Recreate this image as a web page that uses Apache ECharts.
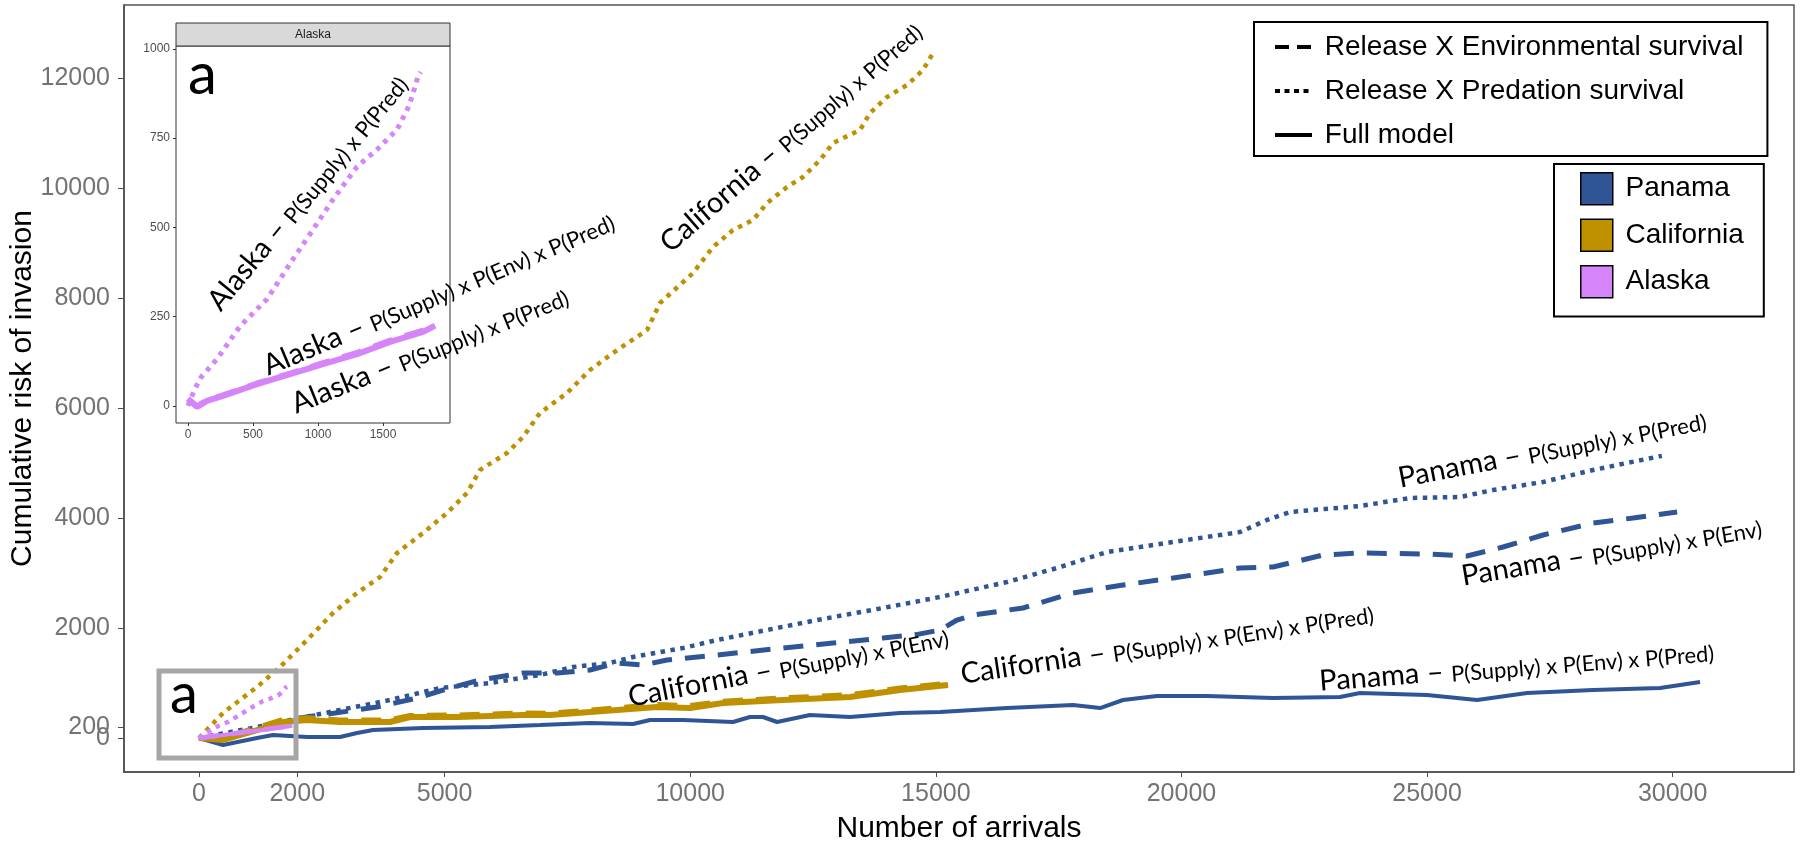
<!DOCTYPE html>
<html lang="en">
<head>
<meta charset="UTF-8">
<title>Cumulative risk of invasion</title>
<style>html,body{margin:0;padding:0;background:#fff}</style>
</head>
<body>
<div id="chart" style="width: 1800px;height: 847px"></div>
<script src="https://cdn.jsdelivr.net/npm/echarts@6.0.0/dist/echarts.min.js"></script>
<script>
// [arrivals, cumulative risk]
const panamaFull = [[0,0],[489,-127],[1181,0],[1507,55],[2199,18],[2870,18],[3217,91],[3542,145],[4560,182],[5924,200],[6942,236],[7960,273],[8835,255],[9182,327],[9853,327],[10871,291],[11217,382],[11482,382],[11767,291],[12439,418],[13253,382],[14271,455],[15086,473],[16450,545],[17793,600],[18343,545],[18811,691],[19503,764],[20521,764],[21865,727],[23228,745],[23635,818],[25000,782],[26018,691],[27036,818],[28380,873],[29743,909],[30558,1018]];
const panamaEnv = [[0,0],[835,55],[1181,145],[2056,364],[3624,564],[4438,727],[5110,909],[5721,1055],[6596,1182],[7288,1182],[7960,1236],[8510,1364],[9039,1327],[9527,1418],[10546,1509],[11889,1636],[12907,1727],[13925,1818],[14600,1880],[15086,1964],[15431,2145],[15757,2236],[16775,2364],[17793,2636],[18811,2782],[19829,2909],[21193,3091],[21865,3109],[22210,3182],[22882,3327],[23635,3364],[25000,3345],[25814,3309],[26547,3473],[27362,3691],[28380,3909],[29194,4000],[30090,4109]];
const panamaPred = [[0,0],[1181,200],[2056,364],[2870,509],[3888,691],[4906,909],[5924,1000],[6942,1145],[7614,1291],[8367,1364],[8835,1473],[9853,1636],[10546,1782],[11564,1964],[12582,2145],[13925,2364],[15086,2564],[16450,2836],[17467,3091],[18485,3382],[19829,3564],[21193,3745],[21743,3964],[22210,4109],[23635,4218],[24654,4364],[25672,4382],[26344,4509],[27362,4655],[28380,4873],[29072,5000],[29780,5130]];
const californiaFull = [[0,0],[489,-36],[1181,145],[1710,291],[2199,327],[2870,291],[3888,291],[4296,382],[5252,382],[6596,418],[7146,418],[7960,473],[8510,509],[9324,564],[9996,545],[10668,636],[11889,691],[13253,745],[14271,873],[15248,964]];
const californiaEnv = [[0,0],[489,0],[1181,180],[1710,330],[2199,360],[2870,320],[3888,320],[4296,400],[5252,410],[6596,445],[7146,440],[7960,500],[8510,540],[9324,600],[9996,580],[10668,660],[11889,720],[13253,780],[14271,900],[15248,990]];
const californiaPred = [[0,0],[489,455],[1181,927],[1649,1291],[2199,1782],[2728,2273],[3217,2636],[3685,2927],[4031,3364],[4560,3727],[5049,4091],[5456,4455],[5721,4873],[6270,5182],[6596,5473],[6942,5909],[7492,6273],[7960,6691],[8428,7000],[9121,7418],[9385,7909],[10057,8455],[10464,8927],[10871,9236],[11279,9418],[11564,9727],[11971,10018],[12296,10200],[12643,10509],[12907,10818],[13457,11055],[13660,11364],[14007,11655],[14414,11873],[14739,12145],[14943,12455]];
const alaskaFull = [[0,20],[70,-3],[146,14],[269,28],[531,61],[785,89],[1038,117],[1300,145],[1554,179],[1808,207],[1900,225]];
const alaskaEnv = [[0,20],[70,0],[146,17],[269,31],[531,64],[785,92],[1038,121],[1300,150],[1554,184],[1808,212],[1900,228]];
const alaskaPred = [[0,0],[50,45],[100,80],[223,131],[400,223],[608,299],[808,411],[962,494],[1115,578],[1300,670],[1454,718],[1608,774],[1700,840],[1769,922],[1790,935]];

const mainXTicks = [0, 2000, 5000, 10000, 15000, 20000, 25000, 30000];
const mainYTicks = [0, 2000, 4000, 6000, 8000, 10000, 12000];
const strayYTicks = [200];   // the odd extra tick left over in the figure
const insetXTicks = [0, 500, 1000, 1500];
const insetYTicks = [0, 250, 500, 750, 1000];

const modelNames = ['Release X Environmental survival', 'Release X Predation survival', 'Full model'];
const regionNames = ['Panama', 'California', 'Alaska'];

const colors = {Panama: '#2F5597', California: '#BF9000', Alaska: '#D684F9'};
const dash = {full: 'solid', env: [20, 13], pred: [4.5, 5.5]};
const widths = {full: 4, env: 5, pred: 4.5};

function line(name, data, region, kind, grid, extraWidth) {
    return {
        name: name,
        type: 'line',
        data: data,
        xAxisIndex: grid, yAxisIndex: grid,
        showSymbol: false, symbol: 'none',
        silent: true,
        lineStyle: {color: colors[region], width: widths[kind] + (extraWidth || 0), type: dash[kind]},
        itemStyle: {color: colors[region]},
        z: 3
    };
}

const series = [
    line('Panama full', panamaFull, 'Panama', 'full', 0),
    line('Panama env', panamaEnv, 'Panama', 'env', 0),
    line('Panama pred', panamaPred, 'Panama', 'pred', 0),
    line('California full', californiaFull, 'California', 'full', 0, 2),
    line('California env', californiaEnv, 'California', 'env', 0, 1),
    line('California pred', californiaPred, 'California', 'pred', 0),
    line('Alaska full', alaskaFull, 'Alaska', 'full', 0),
    line('Alaska env', alaskaEnv, 'Alaska', 'env', 0),
    line('Alaska pred', alaskaPred, 'Alaska', 'pred', 0),
    line('Alaska full inset', alaskaFull, 'Alaska', 'full', 1, 2),
    line('Alaska env inset', alaskaEnv, 'Alaska', 'env', 1),
    line('Alaska pred inset', alaskaPred, 'Alaska', 'pred', 1, 0.5)
];
// dummy series that only feed the two legends
const legendDash = [[14, 8], [5, 4.5], 'solid'];
modelNames.forEach((n, i) => series.push({
    name: n, type: 'line', data: [], symbol: 'none',
    lineStyle: {color: '#000', width: 4, type: legendDash[i]}, itemStyle: {color: '#000'}
}));
regionNames.forEach(n => series.push({
    name: n, type: 'line', data: [], symbol: 'none',
    lineStyle: {color: colors[n]}, itemStyle: {color: colors[n]}
}));

const tickFont = 'Liberation Sans';
const tagFont = 'Lato';
const plain = v => String(v);

function tag(x, y, deg, big, small) {
    const r = deg * Math.PI / 180;
    return {
        type: 'text', z: 100,
        x: x + 6 * Math.sin(r), y: y + 6 * Math.cos(r),
        rotation: r,
        style: {
            text: '{n|' + big + ' \u2013 }{s|' + small + '}',
            align: 'left', verticalAlign: 'bottom', fill: '#000',
            rich: {
                n: {fontSize: 29, fontFamily: tagFont, fill: '#000', verticalAlign: 'bottom'},
                s: {fontSize: 22, fontFamily: tagFont, fill: '#000', verticalAlign: 'bottom'}
            }
        }
    };
}

const graphics = [
    // inset facet strip
    {type: 'rect', z: 50, shape: {x: 176, y: 23, width: 274, height: 23}, style: {fill: '#d9d9d9', stroke: '#333', lineWidth: 1}},
    {type: 'text', z: 51, x: 313, y: 35, style: {text: 'Alaska', fontSize: 12, fontFamily: tickFont, fill: '#1a1a1a', align: 'center', verticalAlign: 'middle'}},
    {type: 'text', z: 51, x: 188, y: 46, style: {text: 'a', fontSize: 58, fontFamily: tagFont, fill: '#000'}},
    // zoom box in main panel
    {type: 'rect', z: 50, shape: {x: 159, y: 671, width: 137, height: 87}, style: {fill: 'none', stroke: '#a6a6a6', lineWidth: 5}},
    {type: 'text', z: 51, x: 170, y: 667, style: {text: 'a', fontSize: 56, fontFamily: tagFont, fill: '#000'}},
    tag(670, 253, 41, 'California', 'P(Supply) x P(Pred)'),
    tag(1400, 487, 11, 'Panama', 'P(Supply) x P(Pred)'),
    tag(1463, 585, 9.6, 'Panama', 'P(Supply) x P(Env)'),
    tag(1320, 690, 4.5, 'Panama', 'P(Supply) x P(Env) x P(Pred)'),
    tag(962, 683, 8.6, 'California', 'P(Supply) x P(Env) x P(Pred)'),
    tag(630, 706, 11, 'California', 'P(Supply) x P(Env)'),
    tag(220, 312, 50.5, 'Alaska', 'P(Supply) x P(Pred)'),
    tag(268, 375, 23, 'Alaska', 'P(Supply) x P(Env) x P(Pred)'),
    tag(296, 413, 22, 'Alaska', 'P(Supply) x P(Pred)')
];

const mainYLabel = {formatter: plain, fontSize: 25, fontFamily: tickFont, color: '#737373', margin: 14, hideOverlap: false, showMinLabel: true};

const chart = echarts.init(document.getElementById('chart'));
chart.setOption({
    animation: false,
    backgroundColor: '#fff',
    grid: [
        {left: 124, right: 6, top: 5, bottom: 75, show: true, borderColor: '#555', borderWidth: 1.5, containLabel: false, outerBoundsMode: 'none'},
        {left: 176, top: 46, width: 274, height: 377, show: true, borderColor: '#333', borderWidth: 1, backgroundColor: '#fff', containLabel: false, outerBoundsMode: 'none', z: 1}
    ],
    xAxis: [
        {
            type: 'value', gridIndex: 0, min: -1527, max: 32470,
            splitLine: {show: false},
            axisLine: {show: true, onZero: false, lineStyle: {color: '#4d4d4d', width: 1.5}},
            axisTick: {show: true, length: 5, lineStyle: {color: '#4d4d4d'}, customValues: mainXTicks},
            axisLabel: {customValues: mainXTicks, formatter: plain, fontSize: 25, fontFamily: tickFont, color: '#737373', margin: 10, hideOverlap: false, showMinLabel: true},
            name: 'Number of arrivals', nameLocation: 'middle', nameGap: 42, nameMoveOverlap: false,
            nameTextStyle: {fontSize: 30, fontFamily: tickFont, color: '#000'}
        },
        {
            type: 'value', gridIndex: 1, min: -92, max: 2015,
            splitLine: {show: false},
            axisLine: {show: false, onZero: false},
            axisTick: {show: true, length: 3, lineStyle: {color: '#333'}, customValues: insetXTicks},
            axisLabel: {customValues: insetXTicks, formatter: plain, fontSize: 12, fontFamily: tickFont, color: '#4d4d4d', margin: 6}
        }
    ],
    yAxis: [
        {
            type: 'value', gridIndex: 0, min: -618, max: 13327,
            splitLine: {show: false},
            axisLine: {show: true, onZero: false, lineStyle: {color: '#4d4d4d', width: 1.5}},
            axisTick: {show: true, length: 6, lineStyle: {color: '#4d4d4d'}, customValues: mainYTicks},
            axisLabel: Object.assign({customValues: mainYTicks}, mainYLabel),
            name: 'Cumulative risk of invasion', nameLocation: 'middle', nameGap: 86, nameMoveOverlap: false,
            nameTextStyle: {fontSize: 30, fontFamily: tickFont, color: '#000'}
        },
        {
            type: 'value', gridIndex: 1, min: -48, max: 1008,
            splitLine: {show: false},
            axisLine: {show: false, onZero: false},
            axisTick: {show: true, length: 3, lineStyle: {color: '#333'}, customValues: insetYTicks},
            axisLabel: {customValues: insetYTicks, formatter: plain, fontSize: 12, fontFamily: tickFont, color: '#4d4d4d', margin: 6}
        },
        {
            // second copy of the main y scale, only to carry the stray "200" tick
            type: 'value', gridIndex: 0, min: -618, max: 13327, position: 'left',
            splitLine: {show: false},
            axisLine: {show: false, onZero: false},
            axisTick: {show: true, length: 6, lineStyle: {color: '#4d4d4d'}, customValues: strayYTicks},
            axisLabel: Object.assign({customValues: strayYTicks}, mainYLabel)
        }
    ],
    legend: [
        {
            data: modelNames, orient: 'vertical', left: 1254, top: 22,
            selectedMode: false,
            itemWidth: 37, itemHeight: 14, itemGap: 14,
            padding: [10, 24, 6, 19],
            borderColor: '#000', borderWidth: 2, backgroundColor: '#fff',
            formatter: ' {name}',
            textStyle: {fontSize: 28, fontFamily: tickFont, color: '#000', lineHeight: 30},
            itemStyle: {opacity: 0},
            lineStyle: {width: 4, color: '#000'}
        },
        {
            data: regionNames.map(n => ({name: n, icon: 'rect'})), orient: 'vertical', left: 1554, top: 164,
            selectedMode: false,
            itemWidth: 32, itemHeight: 32, itemGap: 13,
            padding: [8, 20, 18, 26],
            borderColor: '#000', borderWidth: 2, backgroundColor: '#fff',
            formatter: ' {name}',
            textStyle: {fontSize: 28, fontFamily: tickFont, color: '#000'},
            itemStyle: {borderColor: '#000', borderWidth: 1.5}
        }
    ],
    graphic: graphics,
    series: series
});
</script>
</body>
</html>
